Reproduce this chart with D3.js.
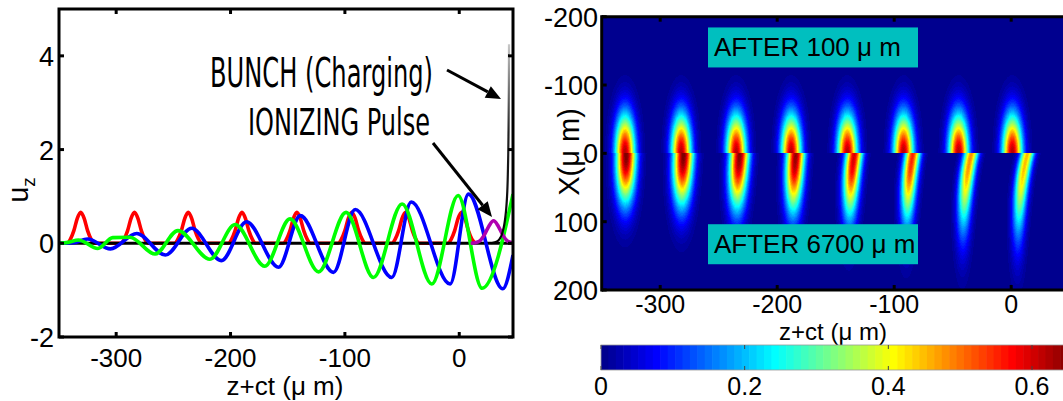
<!DOCTYPE html>
<html>
<head>
<meta charset="utf-8">
<script src="https://cdn.jsdelivr.net/npm/d3@7"></script>
<style>
  html, body { margin: 0; padding: 0; background: #fff; }
  svg { display: block; }
</style>
</head>
<body>
<svg id="fig" width="1063" height="401"></svg>
<script>
// ---------- left panel: longitudinal momentum u_z along z+ct ----------
const zTicks = [-300, -200, -100, 0];
const uTicks = [-2, 0, 2, 4];

// wake driven by the ionizing pulses (extrema of each oscillation)
const blueWake = [[-350,0],[-338,0.01],[-325,0.09],[-305,-0.12],[-282,0.21],[-257,-0.25],
  [-234,0.32],[-208,-0.37],[-186,0.46],[-158,-0.51],[-139,0.59],[-110,-0.62],[-91,0.72],
  [-59,-0.73],[-42,0.88],[-8,-0.87],[8,1.05],[38,-0.97],[47,-0.25]];
const greenWake = [[-350,0],[-342,0.02],[-333,0.07],[-316,-0.11],[-303,0.12],[-288,0.13],
  [-266,-0.23],[-246,0.27],[-218,-0.34],[-196,0.40],[-170,-0.49],[-148,0.52],[-123,-0.61],
  [-99,0.66],[-75,-0.73],[-50,0.84],[-24,-0.87],[-1,1.02],[20,-0.96],[47,1.05]];

// train of ionizing pulses
const redPulses = [
  [-350,0],
  [-343,0],[-340,0.09],[-337,0.27],[-334,0.53],[-331,0.66],[-328,0.53],[-325,0.27],[-322,0.09],[-319,0],
  [-296,0],[-293,0.09],[-290,0.27],[-287,0.53],[-284,0.66],[-281,0.53],[-278,0.27],[-275,0.09],[-272,0],
  [-249,0],[-246,0.09],[-243,0.27],[-240,0.53],[-237,0.66],[-234,0.53],[-231,0.27],[-228,0.09],[-225,0],
  [-202,0],[-199,0.09],[-196,0.27],[-193,0.53],[-190,0.66],[-187,0.53],[-184,0.27],[-181,0.09],[-178,0],
  [-154,0],[-151,0.09],[-148,0.27],[-145,0.53],[-142,0.66],[-139,0.53],[-136,0.27],[-133,0.09],[-130,0],
  [-106,0],[-103,0.09],[-100,0.27],[-97,0.53],[-94,0.66],[-91,0.53],[-88,0.27],[-85,0.09],[-82,0],
  [-59,0],[-56,0.09],[-53,0.27],[-50,0.53],[-47,0.66],[-44,0.53],[-41,0.27],[-38,0.09],[-35,0],
  [-10,0],[-7,0.09],[-4,0.27],[-1,0.53],[2,0.66],[5,0.53],[8,0.27],[11,0.09],[14,0]];

// ionizing pulse for the charging bunch
const magentaPulse = [[10,0],[14,0.01],[18,0.05],[22,0.18],[26,0.37],[30,0.48],[34,0.37],
  [38,0.18],[42,0.05],[46,0.01],[47,0]];

// the bunch itself: steep rise of u_z
const bunch = [[28,0],[33,0.04],[36,0.12],[38.5,0.3],[40.5,0.6],[41.8,1.0],[42.6,1.6],
  [43.1,2.4],[43.4,3.4],[43.5,4.25]];
const axisLine = [[-350,0],[47,0]];

// ---------- right panel: density maps ----------
const xTicksR = [-300, -200, -100, 0];
const XTicksR = [-200, -100, 0, 100, 200];
const cbTicks = [0, 0.2, 0.4, 0.6];
const cMax = 0.66;

// blob centres along z+ct
const blobZ = [-330, -282, -235, -188, -140, -92, -45, 1];
// upper half (after 100 um): peak, width in z, width in X
const topPeak = [0.62, 0.62, 0.62, 0.62, 0.62, 0.62, 0.62, 0.62];
const topSigZ = [6, 6, 6, 6, 6, 6, 6, 6];
const topSigX = [40, 40, 40, 40, 40, 40, 40, 40];
// lower half (after 6700 um): peak, widths, offset of the ridge at X=0 and far away
const botPeak = [0.66, 0.66, 0.65, 0.64, 0.60, 0.55, 0.48, 0.45];
const botSigZ = [6, 6, 5.8, 5.5, 5, 4.6, 4.4, 4.2];
const botSigX = [46, 48, 50, 52, 56, 60, 66, 70];
const botShift0 = [1, 2, 3, 4, 6, 8, 11, 13];
const botShiftFar = [0, 0, 0, 1, 1, 2, 3, 4];
const botRidgeX = [5, 6, 8, 10, 12, 14, 16, 18];

const svg = d3.select("#fig");
svg.append("rect").attr("width", 1063).attr("height", 401).attr("fill", "#fff");

const tickFont = "Liberation Sans, Arial, sans-serif";

// ===== left panel =====
const xL = d3.scaleLinear().domain([-350, 47]).range([59, 513]);
const yL = d3.scaleLinear().domain([-2, 5]).range([337, 9]);
const gL = svg.append("g");

const line = d3.line().x(d => xL(d[0])).y(d => yL(d[1])).curve(d3.curveMonotoneX);
const clipL = svg.append("clipPath").attr("id", "clipL");
clipL.append("rect").attr("x", xL.range()[0]).attr("y", yL.range()[1])
  .attr("width", xL.range()[1] - xL.range()[0]).attr("height", yL.range()[0] - yL.range()[1]);
const plotL = gL.append("g").attr("clip-path", "url(#clipL)");

plotL.append("path").datum(redPulses).attr("d", line).attr("fill", "none")
  .attr("stroke", "#ff0000").attr("stroke-width", 3.6);
plotL.append("path").datum(axisLine).attr("d", d3.line().x(d => xL(d[0])).y(d => yL(d[1])))
  .attr("fill", "none").attr("stroke", "#000").attr("stroke-width", 3);
plotL.append("path").datum(blueWake).attr("d", line).attr("fill", "none")
  .attr("stroke", "#0000ff").attr("stroke-width", 3.6);
plotL.append("path").datum(greenWake).attr("d", line).attr("fill", "none")
  .attr("stroke", "#00ff00").attr("stroke-width", 3.6);
plotL.append("path").datum(magentaPulse).attr("d", line).attr("fill", "none")
  .attr("stroke", "#b000b0").attr("stroke-width", 3.6);

// the bunch spike fades to grey at the top
const grad = svg.append("defs").append("linearGradient").attr("id", "bunchGrad")
  .attr("gradientUnits", "userSpaceOnUse")
  .attr("x1", 0).attr("x2", 0).attr("y1", yL(0)).attr("y2", yL(4.3));
grad.append("stop").attr("offset", "0%").attr("stop-color", "#000");
grad.append("stop").attr("offset", "55%").attr("stop-color", "#222");
grad.append("stop").attr("offset", "100%").attr("stop-color", "#ccc");
plotL.append("path").datum(bunch)
  .attr("d", d3.line().x(d => xL(d[0])).y(d => yL(d[1])).curve(d3.curveMonotoneY))
  .attr("fill", "none").attr("stroke", "url(#bunchGrad)").attr("stroke-width", 2.2);

// box and inward ticks
const boxL = gL.append("g");
boxL.append("rect").attr("x", xL.range()[0]).attr("y", yL.range()[1])
  .attr("width", xL.range()[1] - xL.range()[0]).attr("height", yL.range()[0] - yL.range()[1])
  .attr("fill", "none").attr("stroke", "#000").attr("stroke-width", 3);
zTicks.forEach(t => {
  boxL.append("line").attr("x1", xL(t)).attr("x2", xL(t)).attr("y1", yL(-2)).attr("y2", yL(-2) - 5)
    .attr("stroke", "#000").attr("stroke-width", 3);
  boxL.append("line").attr("x1", xL(t)).attr("x2", xL(t)).attr("y1", yL(5)).attr("y2", yL(5) + 5)
    .attr("stroke", "#000").attr("stroke-width", 3);
  boxL.append("text").attr("x", xL(t)).attr("y", 366.5).attr("text-anchor", "middle")
    .attr("font-family", tickFont).attr("font-size", 26).text(t);
});
uTicks.forEach(t => {
  boxL.append("line").attr("x1", xL(-350)).attr("x2", xL(-350) + 5).attr("y1", yL(t)).attr("y2", yL(t))
    .attr("stroke", "#000").attr("stroke-width", 3);
  boxL.append("line").attr("x1", xL(47)).attr("x2", xL(47) - 5).attr("y1", yL(t)).attr("y2", yL(t))
    .attr("stroke", "#000").attr("stroke-width", 3);
  boxL.append("text").attr("x", 54).attr("y", yL(t) + 10).attr("text-anchor", "end")
    .attr("font-family", tickFont).attr("font-size", 27).text(t);
});
gL.append("text").attr("x", 285).attr("y", 394.5).attr("text-anchor", "middle")
  .attr("font-family", tickFont).attr("font-size", 26).text("z+ct (μ m)");
const uLab = gL.append("text").attr("transform", "translate(28,190) rotate(-90)")
  .attr("text-anchor", "middle").attr("font-family", tickFont).attr("font-size", 29);
uLab.append("tspan").text("u");
uLab.append("tspan").attr("font-size", 19).attr("dy", 7).text("z");

// annotations
const annFont = "'Liberation Sans Narrow', 'DejaVu Sans Condensed', 'Roboto Condensed', sans-serif";
gL.append("text").attr("x", 210).attr("y", 87).attr("font-family", annFont).attr("font-size", 40)
  .attr("textLength", 223).attr("lengthAdjust", "spacingAndGlyphs").text("BUNCH (Charging)");
gL.append("text").attr("x", 248).attr("y", 135).attr("font-family", annFont).attr("font-size", 37)
  .attr("textLength", 182).attr("lengthAdjust", "spacingAndGlyphs").text("IONIZING Pulse");

function arrow(x1, y1, x2, y2) {
  const a = Math.atan2(y2 - y1, x2 - x1), L = 15, Wd = 6.5;
  const bx = x2 - L * Math.cos(a), by = y2 - L * Math.sin(a);
  gL.append("line").attr("x1", x1).attr("y1", y1).attr("x2", bx).attr("y2", by)
    .attr("stroke", "#000").attr("stroke-width", 3);
  gL.append("path").attr("d", `M${x2},${y2}L${bx + Wd * Math.sin(a)},${by - Wd * Math.cos(a)}L${bx - Wd * Math.sin(a)},${by + Wd * Math.cos(a)}Z`)
    .attr("fill", "#000");
}
arrow(447, 70, 501, 99);
arrow(433, 143, 492, 217);

// ===== right panel =====
const xR = d3.scaleLinear().domain([-350, 47]).range([601.7, 601.7 + 397 * 1.17]);
const yR = d3.scaleLinear().domain([-200, 200]).range([16.7, 290]);

function jetColor(v) {
  const idx = Math.max(0, Math.min(63, Math.floor(v / cMax * 64))) + 1;
  const u = k => (k >= 1 && k <= 16) ? k / 16 : (k >= 17 && k <= 31) ? 1 : (k >= 32 && k <= 47) ? (48 - k) / 16 : 0;
  const r = idx >= 25 ? u(idx - 24) : 0;
  const g = (idx >= 9 && idx <= 55) ? u(idx - 8) : 0;
  const b = idx <= 39 ? u(idx + 8) : 0;
  return [Math.round(r * 255), Math.round(g * 255), Math.round(b * 255)];
}

function density(z, X) {
  let v = 0;
  for (let i = 0; i < blobZ.length; i++) {
    if (X < 0) {
      const dz = z - blobZ[i];
      v += topPeak[i] * Math.exp(-dz * dz / (2 * topSigZ[i] ** 2)) * Math.exp(-X * X / (2 * topSigX[i] ** 2));
    } else {
      const w = Math.exp(-X / 55);
      const zc = blobZ[i] + botShift0[i] * w + botShiftFar[i] * (1 - w);
      const dz = z - zc, dX = X - botRidgeX[i] * (1 - Math.exp(-X / 15));
      v += botPeak[i] * Math.exp(-dz * dz / (2 * botSigZ[i] ** 2)) * Math.exp(-dX * dX / (2 * botSigX[i] ** 2));
    }
  }
  return v;
}

// raster of the density map, one cell per screen pixel through the scales
const x0 = Math.round(xR.range()[0]), x1 = 1063;
const y0 = Math.round(yR.range()[0]), y1 = Math.round(yR.range()[1]);
const cw = x1 - x0, ch = y1 - y0;
const canvas = document.createElement("canvas");
canvas.width = cw; canvas.height = ch;
const ctx = canvas.getContext("2d");
const img = ctx.createImageData(cw, ch);
for (let j = 0; j < ch; j++) {
  const X = yR.invert(y0 + j + 0.5);
  for (let i = 0; i < cw; i++) {
    const z = xR.invert(x0 + i + 0.5);
    const c = jetColor(density(z, X));
    const k = (j * cw + i) * 4;
    img.data[k] = c[0]; img.data[k + 1] = c[1]; img.data[k + 2] = c[2]; img.data[k + 3] = 255;
  }
}
ctx.putImageData(img, 0, 0);
const gR = svg.append("g");
gR.append("image").attr("x", x0).attr("y", y0).attr("width", cw).attr("height", ch)
  .attr("preserveAspectRatio", "none").attr("href", canvas.toDataURL());

// labels on the map
[["AFTER 100 μ m", -155], ["AFTER 6700 μ m", 133]].forEach(([t, X]) => {
  gR.append("rect").attr("x", 708).attr("y", yR(X) - 20).attr("width", 210).attr("height", 40)
    .attr("fill", "#00bfbf");
  gR.append("text").attr("x", 714).attr("y", yR(X) + 9).attr("font-family", tickFont)
    .attr("font-size", 26).text(t);
});

// axes of the map
gR.append("line").attr("x1", xR.range()[0]).attr("x2", 1063).attr("y1", yR(-200)).attr("y2", yR(-200))
  .attr("stroke", "#000").attr("stroke-width", 3);
gR.append("line").attr("x1", xR.range()[0]).attr("x2", 1063).attr("y1", yR(200)).attr("y2", yR(200))
  .attr("stroke", "#000").attr("stroke-width", 3);
gR.append("line").attr("x1", xR.range()[0]).attr("x2", xR.range()[0]).attr("y1", yR(-200) - 1.5).attr("y2", yR(200) + 1.5)
  .attr("stroke", "#000").attr("stroke-width", 3);
xTicksR.forEach(t => {
  gR.append("line").attr("x1", xR(t)).attr("x2", xR(t)).attr("y1", yR(200)).attr("y2", yR(200) - 5)
    .attr("stroke", "#000").attr("stroke-width", 3);
  gR.append("line").attr("x1", xR(t)).attr("x2", xR(t)).attr("y1", yR(-200)).attr("y2", yR(-200) + 5)
    .attr("stroke", "#000").attr("stroke-width", 3);
  gR.append("text").attr("x", xR(t)).attr("y", 313).attr("text-anchor", "middle")
    .attr("font-family", tickFont).attr("font-size", 25).text(t);
});
XTicksR.forEach(t => {
  gR.append("line").attr("x1", xR.range()[0]).attr("x2", xR.range()[0] + 5).attr("y1", yR(t)).attr("y2", yR(t))
    .attr("stroke", "#000").attr("stroke-width", 3);
  gR.append("text").attr("x", 598).attr("y", yR(t) + 10).attr("text-anchor", "end")
    .attr("font-family", tickFont).attr("font-size", 27).text(t);
});
gR.append("text").attr("x", 833).attr("y", 340).attr("text-anchor", "middle")
  .attr("font-family", tickFont).attr("font-size", 24).text("z+ct (μ m)");
gR.append("text").attr("transform", "translate(579,152) rotate(-90)").attr("text-anchor", "middle")
  .attr("font-family", tickFont).attr("font-size", 29).text("X(μ m)");

// colour bar
const cb = d3.scaleLinear().domain([0, 0.6]).range([601, 1032]);
const bands = d3.range(64).map(i => i * cMax / 64);
gR.selectAll("rect.cb").data(bands).join("rect").attr("class", "cb")
  .attr("x", d => cb(d)).attr("y", 345).attr("width", cb(cMax / 64) - cb(0) + 0.6).attr("height", 25)
  .attr("fill", d => `rgb(${jetColor(d + cMax / 128).join(",")})`);
gR.append("rect").attr("x", cb(0)).attr("y", 345).attr("width", cb(cMax) - cb(0)).attr("height", 25)
  .attr("fill", "none").attr("stroke", "#999").attr("stroke-width", 0.8);
cbTicks.forEach(t => {
  gR.append("line").attr("x1", cb(t)).attr("x2", cb(t)).attr("y1", 345).attr("y2", 349)
    .attr("stroke", "#444").attr("stroke-width", 1);
  gR.append("line").attr("x1", cb(t)).attr("x2", cb(t)).attr("y1", 370).attr("y2", 366)
    .attr("stroke", "#444").attr("stroke-width", 1);
  gR.append("text").attr("x", cb(t)).attr("y", 395).attr("text-anchor", "middle")
    .attr("font-family", tickFont).attr("font-size", 25).text(t);
});
</script>
</body>
</html>
